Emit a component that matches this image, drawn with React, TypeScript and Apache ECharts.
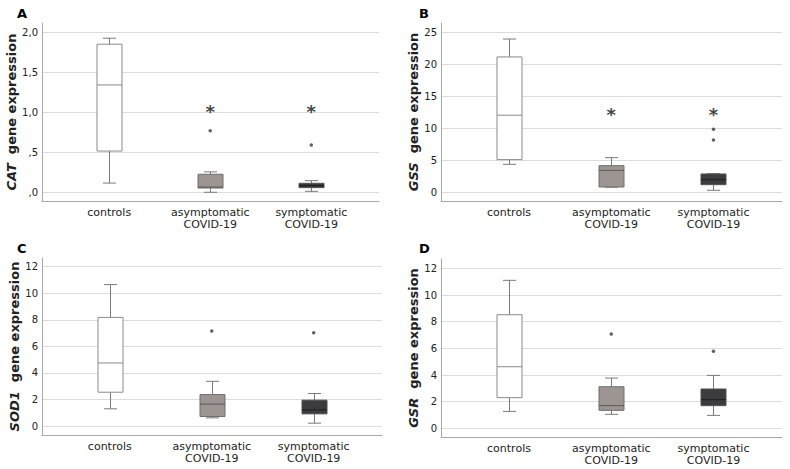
import React, { useEffect, useRef } from "react";
import * as echarts from "echarts";

const categories = ["controls", "asymptomatic\nCOVID-19", "symptomatic\nCOVID-19"];

// [min, Q1, median, Q3, max] per category
const catBoxes = [
  [0.12, 0.52, 1.346, 1.855, 1.93],
  [0.005, 0.058, 0.07, 0.23, 0.26],
  [0.017, 0.063, 0.088, 0.117, 0.15],
];
const catOutliers = [[1, 0.775], [2, 0.596]];
const catStars = [[1, 1.07], [2, 1.07]];
const catTicks = [0, 0.5, 1, 1.5, 2];

const gssBoxes = [
  [4.43, 5.16, 12.1, 21.2, 24.0],
  [0.85, 0.89, 3.49, 4.22, 5.47],
  [0.37, 1.25, 2.03, 2.92, 2.97],
];
const gssOutliers = [[2, 9.9], [2, 8.23]];
const gssStars = [[1, 12.77], [2, 12.77]];
const gssTicks = [0, 5, 10, 15, 20, 25];

const sod1Boxes = [
  [1.3, 2.55, 4.75, 8.18, 10.65],
  [0.62, 0.72, 1.65, 2.37, 3.37],
  [0.22, 0.92, 1.22, 1.95, 2.45],
];
const sod1Outliers = [[1, 7.15], [2, 7.02]];
const sod1Stars: number[][] = [];
const sod1Ticks = [0, 2, 4, 6, 8, 10, 12];

const gsrBoxes = [
  [1.27, 2.3, 4.62, 8.52, 11.1],
  [1.05, 1.35, 1.7, 3.12, 3.77],
  [0.97, 1.7, 2.15, 2.95, 3.97],
];
const gsrOutliers = [[1, 7.07], [2, 5.78]];
const gsrStars: number[][] = [];
const gsrTicks = [0, 2, 4, 6, 8, 10, 12];

const FONT = "DejaVu Sans";
const boxFills = ["#ffffff", "#9d9592", "#3c3c3e"];
const boxBorders = ["#8a8a8a", "#6e6e6e", "#505050"];
const medianColors = ["#8a8a8a", "#5a5a5a", "#1e1e1e"];

const panels = [
  {
    letter: "A", gene: "CAT", boxes: catBoxes, outliers: catOutliers, stars: catStars, ticks: catTicks,
    yMin: -0.104, yMax: 2.12, grid: { left: 42, top: 23, width: 337, height: 178 },
    letterPos: [22, 15], fmt: (v: number) => (v === 0 ? ",0" : v < 1 ? "," + String(v).slice(2) : v.toFixed(1).replace(".", ",")),
  },
  {
    letter: "B", gene: "GSS", boxes: gssBoxes, outliers: gssOutliers, stars: gssStars, ticks: gssTicks,
    yMin: -1.3, yMax: 26.5, grid: { left: 441, top: 23, width: 341, height: 178 },
    letterPos: [424, 15], fmt: (v: number) => String(v),
  },
  {
    letter: "C", gene: "SOD1", boxes: sod1Boxes, outliers: sod1Outliers, stars: sod1Stars, ticks: sod1Ticks,
    yMin: -0.67, yMax: 12.65, grid: { left: 42, top: 258, width: 340, height: 177 },
    letterPos: [22, 250], fmt: (v: number) => String(v),
  },
  {
    letter: "D", gene: "GSR", boxes: gsrBoxes, outliers: gsrOutliers, stars: gsrStars, ticks: gsrTicks,
    yMin: -0.65, yMax: 12.7, grid: { left: 441, top: 259, width: 341, height: 178 },
    letterPos: [424, 250], fmt: (v: number) => String(v),
  },
];

function buildOption() {
  const grid: any[] = [];
  const xAxis: any[] = [];
  const yAxis: any[] = [];
  const series: any[] = [];
  const graphic: any[] = [];

  panels.forEach((p, i) => {
    grid.push({ ...p.grid, containLabel: false });
    xAxis.push({
      type: "value",
      gridIndex: i,
      min: -0.665,
      max: 2.67,
      axisLine: { show: true, onZero: false, lineStyle: { color: "#a8a8a8", width: 1 } },
      axisTick: { show: false },
      splitLine: { show: false },
      axisLabel: {
        customValues: [0, 1, 2],
        formatter: (v: number) => categories[Math.round(v)] || "",
        fontFamily: FONT,
        fontSize: 11,
        color: "#222",
        lineHeight: 12,
        margin: 5,
        showMinLabel: true,
        showMaxLabel: true,
      },
    });
    yAxis.push({
      type: "value",
      gridIndex: i,
      min: p.yMin,
      max: p.yMax,
      name: `{i|${p.gene}}{n|  gene expression}`,
      nameLocation: "middle",
      nameGap: 20,
      nameTextStyle: {
        rich: {
          i: { fontFamily: FONT, fontSize: 13, fontWeight: "bold", fontStyle: "italic", color: "#222" },
          n: { fontFamily: FONT, fontSize: 13, fontWeight: "bold", color: "#222" },
        },
      },
      axisLine: { show: true, onZero: false, lineStyle: { color: "#a8a8a8", width: 1 } },
      axisTick: { show: false, customValues: p.ticks },
      splitLine: { show: true, lineStyle: { color: "#dcdcdc", width: 1 } },
      axisLabel: {
        customValues: p.ticks,
        formatter: p.fmt,
        fontFamily: FONT,
        fontSize: 10,
        color: "#222",
        margin: 4,
      },
    });

    series.push({
      type: "custom",
      xAxisIndex: i,
      yAxisIndex: i,
      encode: { x: 0, y: [1, 2, 3, 4, 5] },
      data: p.boxes.map((b, ci) => [ci, ...b]),
      renderItem: (params: any, api: any) => {
        const x = api.value(0);
        const ci = Math.round(x);
        const lo = api.coord([x, api.value(1)]);
        const q1 = api.coord([x, api.value(2)]);
        const md = api.coord([x, api.value(3)]);
        const q3 = api.coord([x, api.value(4)]);
        const hi = api.coord([x, api.value(5)]);
        const cx = Math.round(lo[0]) + 0.5;
        const bw = 25;
        const cw = 13;
        const wStyle = { stroke: "#7a7a7a", lineWidth: 1 };
        return {
          type: "group",
          children: [
            { type: "line", shape: { x1: cx, y1: hi[1], x2: cx, y2: q3[1] }, style: wStyle },
            { type: "line", shape: { x1: cx, y1: q1[1], x2: cx, y2: lo[1] }, style: wStyle },
            { type: "line", shape: { x1: cx - cw / 2, y1: hi[1], x2: cx + cw / 2, y2: hi[1] }, style: wStyle },
            { type: "line", shape: { x1: cx - cw / 2, y1: lo[1], x2: cx + cw / 2, y2: lo[1] }, style: wStyle },
            {
              type: "rect",
              shape: { x: cx - bw / 2, y: q3[1], width: bw, height: q1[1] - q3[1] },
              style: { fill: boxFills[ci], stroke: boxBorders[ci], lineWidth: 1 },
            },
            {
              type: "line",
              shape: { x1: cx - bw / 2, y1: md[1], x2: cx + bw / 2, y2: md[1] },
              style: { stroke: medianColors[ci], lineWidth: 1 },
            },
          ],
        };
      },
      z: 3,
    });

    series.push({
      type: "scatter",
      xAxisIndex: i,
      yAxisIndex: i,
      data: p.outliers,
      symbol: "circle",
      symbolSize: 3.5,
      itemStyle: { color: "#3a3a3a" },
      z: 4,
    });

    if (p.stars.length) {
      series.push({
        type: "scatter",
        xAxisIndex: i,
        yAxisIndex: i,
        data: p.stars,
        symbolSize: 1,
        itemStyle: { color: "rgba(0,0,0,0)" },
        label: {
          show: true,
          position: "inside",
          formatter: "*",
          fontFamily: FONT,
          fontSize: 18,
          fontWeight: "bold",
          color: "#111",
          offset: [0, 4],
        },
        z: 4,
      });
    }

    graphic.push({
      type: "text",
      left: p.letterPos[0] - 5,
      top: p.letterPos[1] - 8,
      style: { text: p.letter, fontFamily: FONT, fontSize: 13, fontWeight: "bold", fill: "#000" },
    });
  });

  return { animation: false, backgroundColor: "#fff", grid, xAxis, yAxis, series, graphic };
}

export default function App() {
  const ref = useRef<HTMLDivElement>(null);
  useEffect(() => {
    if (!ref.current) return;
    const chart = echarts.init(ref.current, undefined, { renderer: "svg" });
    chart.setOption(buildOption() as any);
    return () => chart.dispose();
  }, []);
  return (
    <div
      ref={ref}
      style={{ position: "fixed", left: 0, top: 0, width: 790, height: 469, background: "#fff" }}
    />
  );
}
